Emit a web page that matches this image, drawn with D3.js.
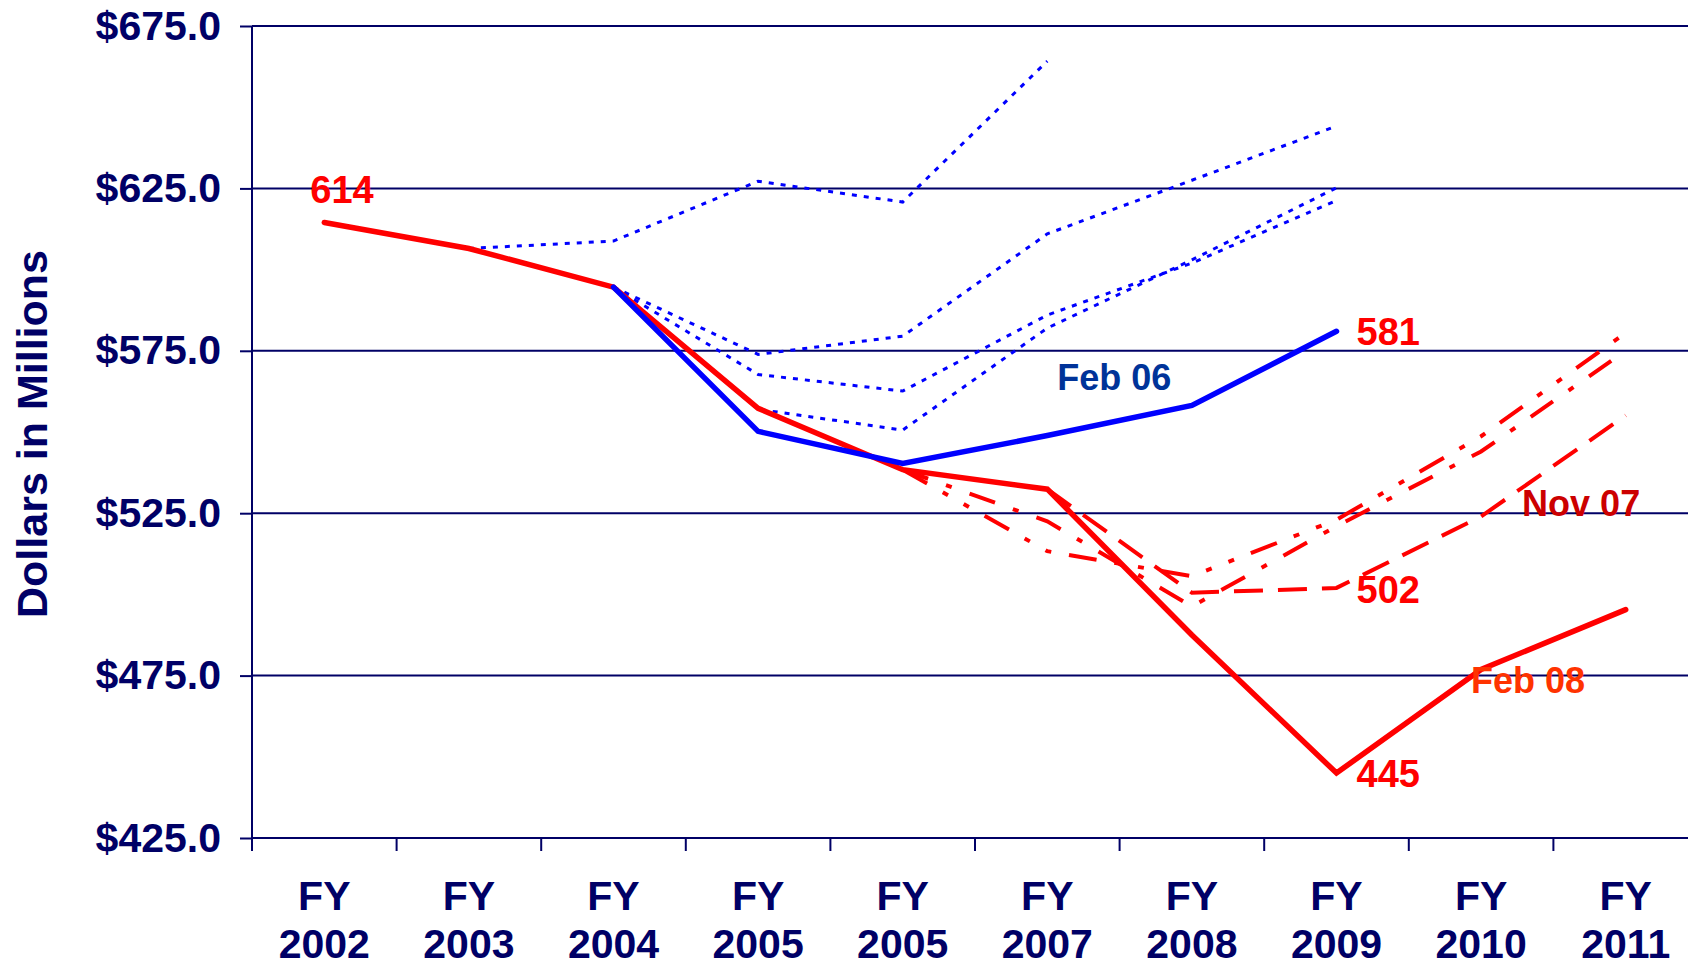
<!DOCTYPE html>
<html>
<head>
<meta charset="utf-8">
<script src="https://cdn.jsdelivr.net/npm/d3@7"></script>
<style>
  html, body { margin: 0; padding: 0; background: #ffffff; }
  svg { display: block; font-family: "Liberation Sans", Arial, sans-serif; font-weight: bold; }
</style>
</head>
<body>
<svg id="chart" width="1688" height="967"></svg>
<script>
// ---- data ----
const categories = ["FY 2002", "FY 2003", "FY 2004", "FY 2005", "FY 2005", "FY 2007", "FY 2008", "FY 2009", "FY 2010", "FY 2011"];
const yTicks = [425, 475, 525, 575, 625, 675];

// Feb 08 estimate (solid red)
const feb08 = [614.5, 606.5, 594.6, 557.3, 538.4, 532.4, 487.5, 445, 476.9, 495.3];
// Feb 06 estimate (solid blue)
const feb06 = [null, null, 594.6, 550.2, 540.3, 548.9, 558.2, 581, null, null];
// Older estimates (blue dotted)
const est1 = [null, 606.5, 608.8, 627.2, 620.8, 664.2, null, null, null, null];
const est2 = [null, null, 594.6, 573.9, 579.5, 611.0, 627.5, 644.2, null, null];
const est3 = [null, null, 594.6, 567.7, 562.6, 586.0, 602.0, 621.3, null, null];
const est4 = [null, null, 594.6, 557.0, 550.6, 582.0, 603.0, 625.2, null, null];
// Red dashed estimates
const estDashDotDot = [null, null, null, null, 538.4, 513.3, 505.6, 523.0, 548.7, 580.5];
const estDashDot = [null, null, null, null, 538.4, 522.5, 496.3, 521.0, 544.0, 575.0];
const nov07 = [null, null, null, null, null, 532.4, 500.5, 502.0, 524.0, 555.1];

// ---- layout ----
const svg = d3.select("#chart");
const navy = "#000066";
const x = d3.scaleBand().domain(d3.range(categories.length)).range([252, 1698]).padding(0);
const xc = i => x(i) + x.bandwidth() / 2;
const y = d3.scaleLinear().domain([425, 675]).range([838, 26]);

// gridlines
svg.append("g").selectAll("line").data(yTicks.slice(1)).join("line")
  .attr("x1", 252).attr("x2", 1698)
  .attr("y1", d => y(d)).attr("y2", d => y(d))
  .attr("stroke", navy).attr("stroke-width", 2);

// y axis
const yAxis = svg.append("g").attr("transform", "translate(252,0)")
  .call(d3.axisLeft(y).tickValues(yTicks).tickSize(12).tickPadding(19).tickFormat(d3.format("$.1f")));
yAxis.select(".domain").attr("stroke", navy).attr("stroke-width", 2).attr("d", `M0,${y(425)}V${y(675)}`);
yAxis.selectAll(".tick line").attr("stroke", navy).attr("stroke-width", 2);
yAxis.selectAll(".tick text").attr("fill", navy).style("font-size", "41px")
  .style("font-family", "'Liberation Sans', Arial, sans-serif").style("font-weight", "bold");

// x axis
const xAxis = svg.append("g").attr("transform", `translate(0,${y(425)})`)
  .call(d3.axisBottom(x).tickSize(0).tickPadding(0).tickFormat(i => categories[i]));
xAxis.select(".domain").attr("stroke", navy).attr("stroke-width", 2).attr("d", `M252,0H1698`);
xAxis.selectAll(".tick text").each(function(i) {
  const t = d3.select(this);
  const parts = categories[i].split(" ");
  t.text(null).attr("y", 0).attr("dy", null)
    .attr("fill", navy).style("font-size", "41px")
    .style("font-family", "'Liberation Sans', Arial, sans-serif").style("font-weight", "bold");
  t.append("tspan").attr("x", 0).attr("y", 72).text(parts[0]);
  t.append("tspan").attr("x", 0).attr("y", 120).text(parts[1]);
});
// boundary ticks
svg.append("g").selectAll("line").data(d3.range(categories.length)).join("line")
  .attr("x1", d => x(d)).attr("x2", d => x(d))
  .attr("y1", y(425)).attr("y2", y(425) + 13)
  .attr("stroke", navy).attr("stroke-width", 2);

// y axis title
svg.append("text")
  .attr("transform", `translate(47,${(y(425) + y(675)) / 2 + 2}) rotate(-90)`)
  .attr("text-anchor", "middle")
  .attr("fill", navy).style("font-size", "43px")
  .text("Dollars in Millions");

// ---- lines ----
const line = d3.line().defined(d => d != null).x((d, i) => xc(i)).y(d => y(d));
function drawLine(data, color, width, dash, cap) {
  svg.append("path").datum(data)
    .attr("d", line)
    .attr("fill", "none")
    .attr("stroke", color)
    .attr("stroke-width", width)
    .attr("stroke-dasharray", dash)
    .attr("stroke-linecap", cap || "butt")
    .attr("stroke-linejoin", "miter");
}
[est1, est2, est3, est4].forEach(s => drawLine(s, "#0000FF", 3, "5,7"));
drawLine(estDashDotDot, "#FF0000", 4, "28,18,6,18,6,18");
drawLine(estDashDot, "#FF0000", 4, "27,19,6,19");
drawLine(nov07, "#FF0000", 4, "29,15");
drawLine(feb08, "#FF0000", 5.5, null, "round");
drawLine(feb06, "#0000FF", 5.5, null, "round");

// ---- labels ----
function label(txt, px, py, color, size) {
  svg.append("text").attr("x", px).attr("y", py)
    .attr("fill", color).style("font-size", size + "px").text(txt);
}
label("614", xc(0) - 14, y(feb08[0]) - 20, "#FF0000", 38);
label("581", xc(7) + 20, y(feb06[7]) + 14, "#FF0000", 38);
label("502", xc(7) + 20, y(nov07[7]) + 15, "#FF0000", 38);
label("445", xc(7) + 20, y(feb08[7]) + 14, "#FF0000", 38);
label("Feb 06", xc(5) + 10, y(feb06[5]) - 46, "#003399", 36);
label("Feb 08", xc(8) - 10, y(feb08[8]) + 24, "#FF3300", 36);
label("Nov 07", xc(8) + 41, y(nov07[8]) + 0, "#CC0000", 36);
</script>
</body>
</html>
